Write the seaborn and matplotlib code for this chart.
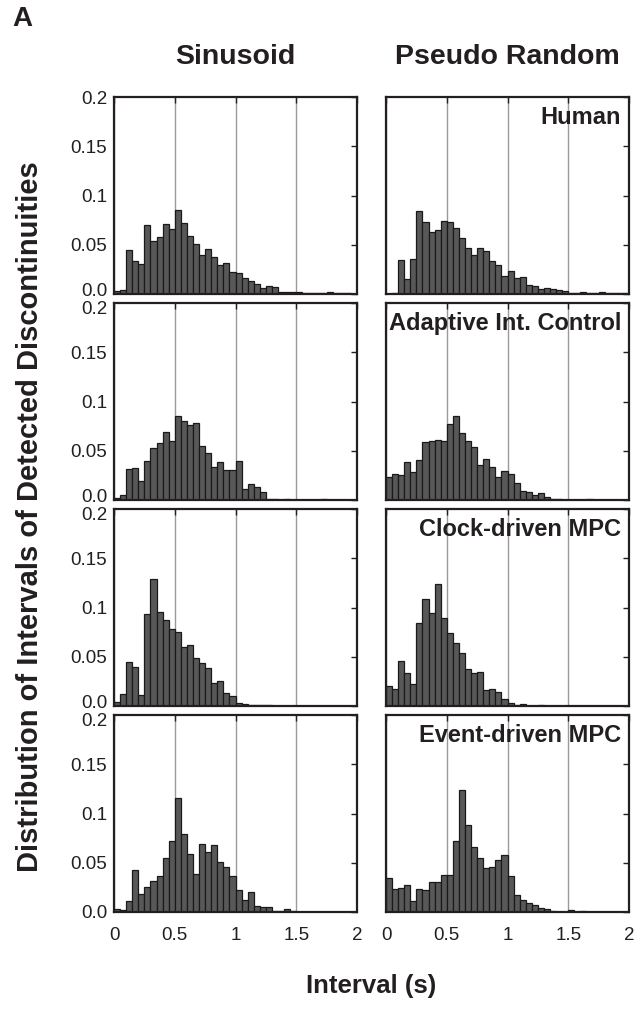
import numpy as np
import pandas as pd
import matplotlib
matplotlib.use('Agg')
import matplotlib.pyplot as plt
from matplotlib.transforms import ScaledTranslation
import seaborn as sns

# 40 bins of 0.05 s between 0 and 2 s
bin_edges = np.linspace(0, 2, 41)
bin_mids = (bin_edges[:-1] + bin_edges[1:]) / 2

sin_human = [0.003, 0.004, 0.045, 0.033, 0.030, 0.070, 0.054, 0.058, 0.071, 0.066,
             0.085, 0.072, 0.059, 0.051, 0.040, 0.046, 0.038, 0.029, 0.031, 0.022,
             0.021, 0.016, 0.013, 0.010, 0.006, 0.008, 0.007, 0.002, 0.002, 0.002,
             0.002, 0.001, 0.001, 0.001, 0.001, 0.002, 0.001, 0.001, 0.001, 0.000]
pr_human = [0.000, 0.001, 0.035, 0.015, 0.036, 0.084, 0.073, 0.063, 0.065, 0.074,
            0.073, 0.067, 0.057, 0.047, 0.040, 0.047, 0.044, 0.033, 0.029, 0.018,
            0.023, 0.016, 0.017, 0.009, 0.008, 0.005, 0.006, 0.005, 0.004, 0.003,
            0.001, 0.001, 0.002, 0.001, 0.001, 0.002, 0.001, 0.001, 0.001, 0.001]
sin_adapt = [0.002, 0.005, 0.031, 0.032, 0.019, 0.040, 0.053, 0.058, 0.069, 0.060,
             0.085, 0.080, 0.076, 0.078, 0.055, 0.048, 0.033, 0.039, 0.030, 0.030,
             0.040, 0.011, 0.016, 0.013, 0.008, 0.001, 0.001, 0.000, 0.001, 0.000,
             0.000, 0.000, 0.000, 0.000, 0.001, 0.000, 0.000, 0.000, 0.000, 0.000]
pr_adapt = [0.023, 0.026, 0.025, 0.039, 0.028, 0.041, 0.059, 0.060, 0.061, 0.060,
            0.077, 0.085, 0.068, 0.060, 0.054, 0.036, 0.042, 0.033, 0.023, 0.029,
            0.026, 0.017, 0.009, 0.008, 0.005, 0.007, 0.003, 0.001, 0.001, 0.000,
            0.000, 0.000, 0.000, 0.001, 0.000, 0.000, 0.000, 0.000, 0.000, 0.000]
sin_clock = [0.004, 0.012, 0.045, 0.040, 0.011, 0.093, 0.129, 0.095, 0.087, 0.078,
             0.075, 0.060, 0.062, 0.049, 0.044, 0.039, 0.023, 0.025, 0.013, 0.010,
             0.003, 0.002, 0.001, 0.001, 0.001, 0.001, 0.000, 0.000, 0.000, 0.000,
             0.000, 0.000, 0.000, 0.000, 0.000, 0.000, 0.000, 0.000, 0.000, 0.000]
pr_clock = [0.020, 0.017, 0.046, 0.033, 0.022, 0.084, 0.109, 0.094, 0.124, 0.089,
            0.074, 0.064, 0.054, 0.038, 0.033, 0.035, 0.016, 0.017, 0.014, 0.007,
            0.003, 0.001, 0.002, 0.000, 0.000, 0.001, 0.000, 0.000, 0.000, 0.000,
            0.000, 0.000, 0.000, 0.000, 0.000, 0.000, 0.000, 0.000, 0.000, 0.000]
sin_event = [0.003, 0.002, 0.011, 0.043, 0.018, 0.025, 0.031, 0.037, 0.055, 0.072,
             0.116, 0.079, 0.059, 0.039, 0.069, 0.061, 0.068, 0.051, 0.046, 0.037,
             0.022, 0.012, 0.020, 0.006, 0.005, 0.005, 0.001, 0.001, 0.003, 0.001,
             0.000, 0.000, 0.000, 0.000, 0.000, 0.000, 0.000, 0.000, 0.000, 0.000]
pr_event = [0.035, 0.023, 0.024, 0.027, 0.011, 0.023, 0.022, 0.030, 0.030, 0.038,
            0.038, 0.072, 0.124, 0.088, 0.066, 0.055, 0.045, 0.046, 0.053, 0.058,
            0.037, 0.017, 0.012, 0.009, 0.007, 0.004, 0.003, 0.001, 0.000, 0.000,
            0.002, 0.000, 0.001, 0.000, 0.000, 0.000, 0.000, 0.000, 0.000, 0.000]

columns = ['Sinusoid', 'Pseudo Random']
controllers = ['Human', 'Adaptive Int. Control', 'Clock-driven MPC', 'Event-driven MPC']
panels = [[sin_human, pr_human],
          [sin_adapt, pr_adapt],
          [sin_clock, pr_clock],
          [sin_event, pr_event]]

x_ticks = [0, 0.5, 1, 1.5, 2]
x_labels = ['0', '0.5', '1', '1.5', '2']
y_ticks = [0, 0.05, 0.1, 0.15, 0.2]
y_labels = ['0.0', '0.05', '0.1', '0.15', '0.2']

sns.set_style('white')
plt.rcParams['font.family'] = ['Liberation Sans', 'DejaVu Sans']
ink = '#231f20'

W, H = 637, 1028
fig = plt.figure(figsize=(W / 100, H / 100), dpi=100)

col_left = [114, 386]
pw = 243
row_top = [97, 303, 509, 715]
row_h = [197, 197, 197, 197]

for r, row in enumerate(panels):
    for c, vals in enumerate(row):
        ax = fig.add_axes([col_left[c] / W, 1 - (row_top[r] + row_h[r]) / H,
                           pw / W, row_h[r] / H])
        df = pd.DataFrame({'interval': bin_mids, 'share': vals})
        sns.histplot(data=df, x='interval', weights='share', binwidth=0.05,
                     binrange=(0, 2), ax=ax, color='#585858', edgecolor='#1a1a1a',
                     linewidth=0.9, alpha=1)
        ax.set_xlim(0, 2)
        ax.set_ylim(0, 0.2)
        ax.set_xlabel('')
        ax.set_ylabel('')
        ax.set_xticks(x_ticks)
        ax.set_xticklabels(x_labels)
        ax.set_yticks(y_ticks)
        ax.set_yticklabels(y_labels)
        ax.grid(True, axis='x', color='#9a9a9a', lw=1)
        ax.set_axisbelow(True)
        ax.tick_params(direction='in', length=4, width=1, top=True, right=True,
                       labelsize=13.5, colors=ink, pad=5,
                       labelleft=(c == 0), labelbottom=(r == 3))
        ax.tick_params(axis='x', pad=11)
        for sp in ax.spines.values():
            sp.set_linewidth(1.6)
            sp.set_color(ink)
        if c == 0:
            # nudge the stacked 0.0 / 0.2 labels apart between rows
            lbls = ax.get_yticklabels()
            if r < 3:
                lbls[0].set_transform(lbls[0].get_transform()
                                      + ScaledTranslation(0, 3.5 / 72, fig.dpi_scale_trans))
            if r > 0:
                lbls[-1].set_transform(lbls[-1].get_transform()
                                       + ScaledTranslation(0, -3.5 / 72, fig.dpi_scale_trans))
        if c == 1:
            ax.text(0.968, 0.955, controllers[r], transform=ax.transAxes,
                    ha='right', va='top', fontsize=17, fontweight='bold', color=ink)

for c, name in enumerate(columns):
    fig.text((col_left[c] + pw / 2) / W, 1 - 57 / H, name, ha='center', va='center',
             fontsize=20.5, fontweight='bold', color=ink)

fig.text(22 / W, 1 - 19 / H, 'A', ha='center', va='center',
         fontsize=20, fontweight='bold', color=ink)
fig.text(30 / W, 1 - 517 / H, 'Distribution of Intervals of Detected Discontinuities',
         rotation=90, ha='center', va='center', fontsize=21, fontweight='bold', color=ink)
fig.text((col_left[0] + col_left[1] + pw) / 2 / W, 1 - 986 / H, 'Interval (s)',
         ha='center', va='center', fontsize=18.5, fontweight='bold', color=ink)

fig.savefig('out.png', dpi=100)
